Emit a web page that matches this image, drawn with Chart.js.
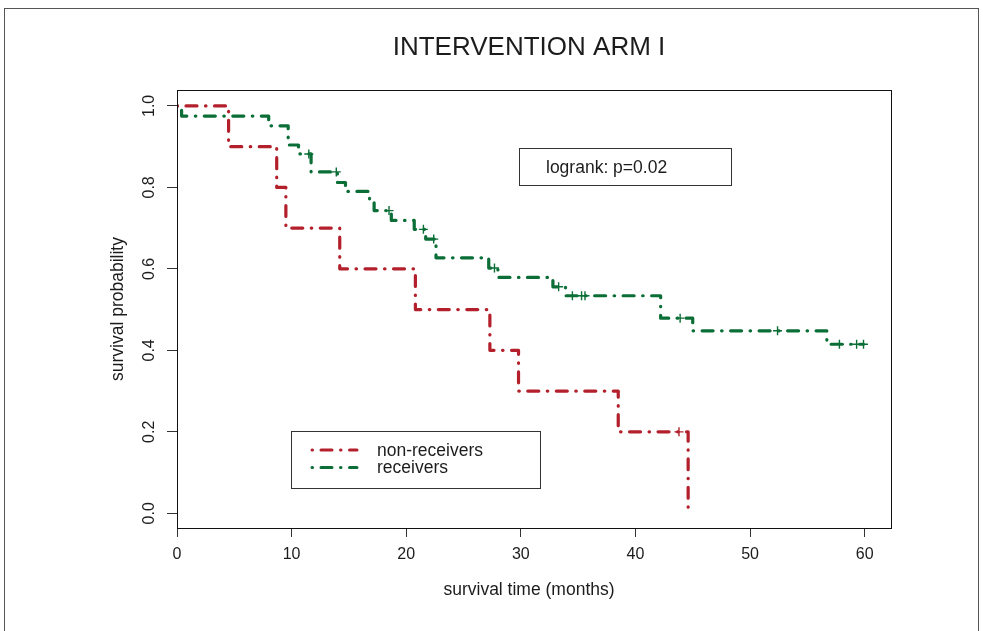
<!DOCTYPE html>
<html>
<head>
<meta charset="utf-8">
<script src="https://cdn.jsdelivr.net/npm/chart.js@4.4.1/dist/chart.umd.min.js"></script>
<style>
  html, body { margin: 0; padding: 0; background: #fff; }
  #wrap { position: relative; width: 983px; height: 631px; overflow: hidden; }
  canvas { display: block; }
</style>
</head>
<body>
<div id="wrap"><canvas id="km" width="983" height="631"></canvas></div>
<script>
// Kaplan–Meier survival by group; times in months
const groupNames = ['non-receivers', 'receivers'];

const nonRecEventTimes = [4.5, 8.7, 9.5, 14.2, 20.8, 27.3, 29.8, 38.5, 44.6];
const nonRecSurvival   = [0.9, 0.8, 0.7, 0.6, 0.5, 0.4, 0.3, 0.2, 0.0];
const nonRecCensorTimes = [43.8];

const recEventTimes = [0.4, 8.0, 9.7, 10.6, 11.7, 14.0, 14.7, 16.8, 17.2, 18.7, 20.7, 21.7, 22.6, 27.2, 28.0, 32.8, 33.9, 42.2, 45.0, 56.7];
const recSurvival   = [0.975, 0.951, 0.904, 0.882, 0.838, 0.812, 0.790, 0.767, 0.743, 0.719, 0.697, 0.673, 0.627, 0.602, 0.579, 0.556, 0.534, 0.479, 0.448, 0.415];
const recCensorTimes = [11.5, 13.9, 18.5, 21.5, 22.4, 27.7, 33.3, 34.5, 35.3, 35.6, 43.9, 52.4, 57.8, 59.3, 59.9];

const xTickValues = [0, 10, 20, 30, 40, 50, 60];
const yTickValues = [0.0, 0.2, 0.4, 0.6, 0.8, 1.0];

const titleText = 'INTERVENTION ARM I';
const xAxisTitle = 'survival time (months)';
const yAxisTitle = 'survival probability';
const logrankText = 'logrank: p=0.02';

// ---- helpers -------------------------------------------------------------
function stepPoints(times, surv, censors) {
  const pts = [{ x: 0, y: 1 }];
  times.forEach((t, i) => pts.push({ x: t, y: surv[i] }));
  const end = Math.max(times[times.length - 1], ...censors);
  const last = pts[pts.length - 1];
  if (end > last.x) pts.push({ x: end, y: last.y });
  return pts;
}
function levelAt(times, surv, t) {
  let s = 1;
  times.forEach((ti, i) => { if (ti <= t) s = surv[i]; });
  return s;
}
function censorPoints(times, surv, censors) {
  return censors.map(c => ({ x: c, y: levelAt(times, surv, c) }));
}

const RED = '#B3202C';
const GREEN = '#0A6E36';
const DOT_DASH = [0.5, 8.5, 11, 8.5];
const FONT = '"Liberation Sans", Arial, sans-serif';
const INK = '#1c1c1c';

function curve(label, color, pts) {
  return {
    type: 'line', label, data: pts,
    borderColor: color, borderWidth: 3.2, borderDash: DOT_DASH,
    borderCapStyle: 'round', borderJoinStyle: 'round',
    stepped: true, tension: 0, pointRadius: 0, fill: false
  };
}
function censorMarks(color, pts) {
  return {
    type: 'scatter', data: pts, showLine: false,
    pointStyle: 'cross', pointRadius: 4.5, pointBorderWidth: 1.4,
    borderColor: color, backgroundColor: color
  };
}

// frame, titles, rotated y labels, annotation box and legend
const decorations = {
  id: 'decorations',
  beforeDraw(chart) {
    const c = chart.ctx;
    c.save();
    c.fillStyle = '#fff';
    c.fillRect(0, 0, chart.width, chart.height);
    c.strokeStyle = '#555';
    c.lineWidth = 1;
    c.strokeRect(4.5, 8.5, 974, 640);
    c.restore();
  },
  afterDraw(chart) {
    const c = chart.ctx;
    const a = chart.chartArea;
    const ys = chart.scales.y;
    const cx = 529;
    c.save();
    // plot box
    c.strokeStyle = '#111';
    c.lineWidth = 1;
    c.strokeRect(Math.round(a.left) + 0.5, Math.round(a.top) + 0.5,
                 Math.round(a.right - a.left), Math.round(a.bottom - a.top));

    c.fillStyle = INK;
    // title
    c.font = '26px ' + FONT;
    c.textAlign = 'center';
    c.textBaseline = 'middle';
    c.fillText(titleText, cx, 48);

    // x axis title
    c.font = '17.5px ' + FONT;
    c.fillText(xAxisTitle, cx, 590);

    // y tick labels (rotated) and y axis title
    yTickValues.forEach(v => {
      const y = ys.getPixelForValue(v);
      c.save();
      c.translate(150, y);
      c.rotate(-Math.PI / 2);
      c.font = '16px ' + FONT;
      c.fillText(v.toFixed(1), 0, 0);
      c.restore();
    });
    c.save();
    c.translate(118, (a.top + a.bottom) / 2);
    c.rotate(-Math.PI / 2);
    c.font = '17.5px ' + FONT;
    c.fillText(yAxisTitle, 0, 0);
    c.restore();

    // logrank box
    c.strokeStyle = '#333';
    c.strokeRect(519.5, 148.5, 212, 37);
    c.textAlign = 'left';
    c.font = '17.5px ' + FONT;
    c.fillText(logrankText, 546, 168);

    // legend
    c.strokeRect(291.5, 431.5, 249, 57);
    const rows = [
      { name: groupNames[0], color: RED, y: 450 },
      { name: groupNames[1], color: GREEN, y: 467.5 }
    ];
    rows.forEach(r => {
      c.save();
      c.strokeStyle = r.color;
      c.lineWidth = 3;
      c.lineCap = 'round';
      c.setLineDash(DOT_DASH);
      c.beginPath();
      c.moveTo(312, r.y);
      c.lineTo(357, r.y);
      c.stroke();
      c.restore();
      c.fillStyle = INK;
      c.fillText(r.name, 377, r.y + 1);
    });
    c.restore();
  }
};

new Chart(document.getElementById('km'), {
  type: 'line',
  data: {
    datasets: [
      curve(groupNames[0], RED, stepPoints(nonRecEventTimes, nonRecSurvival, nonRecCensorTimes)),
      curve(groupNames[1], GREEN, stepPoints(recEventTimes, recSurvival, recCensorTimes)),
      censorMarks(RED, censorPoints(nonRecEventTimes, nonRecSurvival, nonRecCensorTimes)),
      censorMarks(GREEN, censorPoints(recEventTimes, recSurvival, recCensorTimes))
    ]
  },
  options: {
    responsive: false,
    animation: false,
    devicePixelRatio: 1,
    layout: { padding: { left: 0, top: 90, right: 92, bottom: 0 } },
    plugins: { legend: { display: false }, tooltip: { enabled: false }, title: { display: false } },
    scales: {
      x: {
        type: 'linear', min: 0, max: 62.3,
        afterBuildTicks: s => { s.ticks = xTickValues.map(v => ({ value: v })); },
        afterFit: s => { s.height = 103; },
        grid: { drawOnChartArea: false, drawTicks: true, tickLength: 9, color: '#333' },
        border: { display: true, color: '#111', width: 1 },
        ticks: { font: { family: FONT, size: 16 }, color: INK, padding: 8, maxRotation: 0, autoSkip: false,
                 callback: v => String(v) }
      },
      y: {
        type: 'linear', min: -0.036, max: 1.039,
        afterBuildTicks: s => { s.ticks = yTickValues.map(v => ({ value: v })); },
        afterFit: s => { s.width = 177; },
        grid: { drawOnChartArea: false, drawTicks: true, tickLength: 10, color: '#333' },
        border: { display: true, color: '#111', width: 1 },
        ticks: { display: false }
      }
    }
  },
  plugins: [decorations]
});
</script>
</body>
</html>
